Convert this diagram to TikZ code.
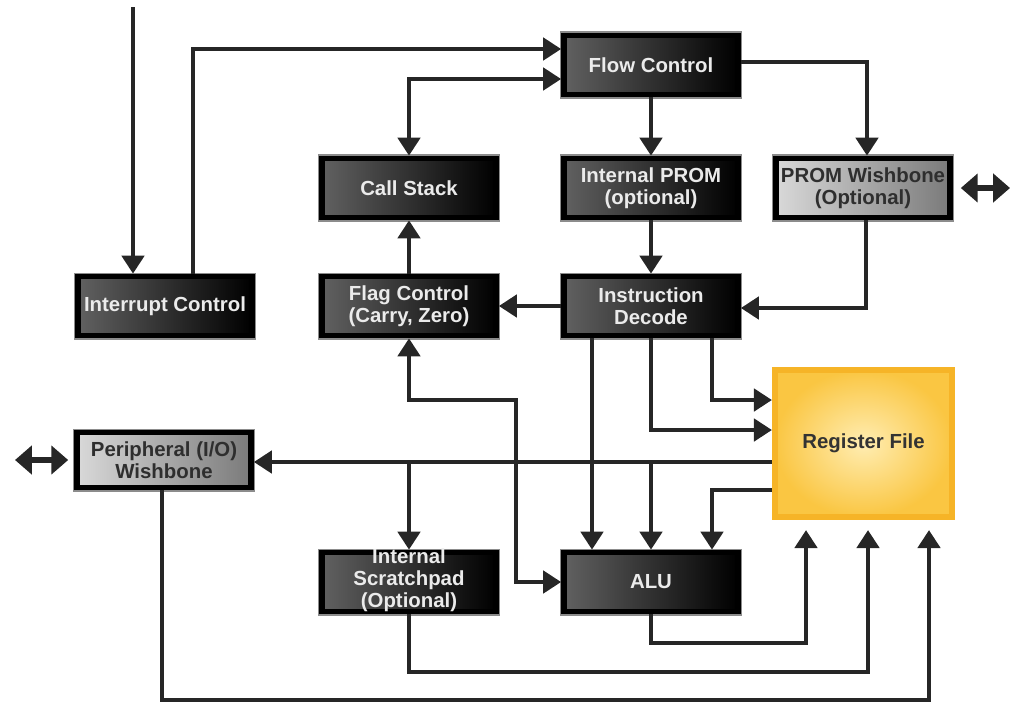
\documentclass[tikz,border=0pt]{standalone}
\usepackage{fontspec}
\setmainfont{Liberation Sans}
\usetikzlibrary{arrows.meta}
\usetikzlibrary{calc}

\definecolor{regfill}{HTML}{FFEDB2}
\definecolor{regshade}{HTML}{FAC642}
\definecolor{regframe}{HTML}{F6B427}

\begin{document}
\begin{tikzpicture}[x=0.025cm,y=-0.025cm]
    \newcommand{\tipsize}{length=0.45cm,width=0.55cm}
    \tikzstyle{dedge} = [line width=3.5pt,draw=black!85,-{Triangle[\tipsize]}]
    \tikzstyle{bedge} = [line width=3.5pt,draw=black!85,{Triangle[\tipsize]}-{Triangle[\tipsize]}]
    \tikzstyle{bus}   = [line width=4.5pt,draw=black!85,{Triangle[length=0.42cm,width=0.7cm]}-{Triangle[length=0.42cm,width=0.7cm]}]
    \tikzstyle{block}=[
      rectangle,
      anchor=center,
      inner sep=0pt,
      align=center,
      minimum width=4.35cm,
      minimum height=1.475cm,
      line width=0.14cm,
      draw=black,
      preaction={draw=black!45,line width=0.2cm},
      font=\bfseries\fontsize{14.5}{15.5}\selectfont,
    ]
    \tikzstyle{dark}=[block,left color=black!62,right color=black,text=white!92!black]
    \tikzstyle{light}=[block,left color=black!15,right color=black!52,text=black!82]
    \tikzstyle{regbox}=[
      rectangle,
      inner sep=0pt,
      minimum width=4.425cm,
      minimum height=3.675cm,
      line width=0.15cm,
      draw=regframe,
      inner color=regfill,
      outer color=regshade,
      text=black!80,
      font=\bfseries\fontsize{14.5}{15.5}\selectfont,
    ]

    \useasboundingbox (0,0) rectangle (1019,706);

    \node[dark]  (nIrq)     at (165,306) {Interrupt Control};
    \node[dark]  (nStack)   at (409,188) {Call Stack};
    \node[dark]  (nFlag)    at (409,306) {Flag Control\\(Carry, Zero)};
    \node[dark]  (nFlow)    at (651,65)  {Flow Control};
    \node[dark]  (nProm)    at (651,188) {Internal PROM\\(optional)};
    \node[light] (nPromWb)  at (863,188) {PROM Wishbone\\(Optional)};
    \node[dark]  (nDecode)  at (651,306) {Instruction\\Decode};
    \node[regbox] (nReg)    at (863.5,443.5) {Register File};
    \node[light,minimum height=1.375cm] (nPerWb) at (164,460) {Peripheral (I/O)\\Wishbone};
    \node[dark]  (nScratch) at (409,582) {\smash{\raisebox{-3pt}{\begin{tabular}{@{}c@{}}Internal\\Scratchpad\\(Optional)\end{tabular}}}};
    \node[dark]  (nAlu)     at (651,582) {ALU};

    \coordinate (cIrqIn) at (133,7);
    \coordinate (cPromBus) at (1010,188);
    \coordinate (cPerBus) at (15,460);

    \draw[dedge] (cIrqIn) -- (cIrqIn |- nIrq.north);
    \draw[dedge] (nIrq.north -| 193,0) |- (nFlow.west |- 0,49);
    \draw[bedge] (nStack.north) |- (nFlow.west |- 0,79);
    \draw[dedge] (nFlow) -- (nProm);
    \draw[dedge] (nFlow.east |- 0,62) -| (nPromWb.north -| 867,0);
    \draw[bus] ([xshift=0.2cm]nPromWb.east) -- (cPromBus);
    \draw[dedge] (nProm) -- (nDecode);
    \draw[dedge] (nPromWb.south -| 866,0) |- (nDecode.east |- 0,308);
    \draw[dedge] (nDecode) -- (nFlag);
    \draw[dedge] (nFlag) -- (nStack);
    \draw[bedge] (nFlag.south) |- (516,400) |- (nAlu.west);
    \draw[dedge] (nDecode.south -| 592,0) -- (nAlu.north -| 592,0);
    \draw[dedge] (nDecode.south) |- (nReg.west |- 0,430);
    \draw[dedge] (nDecode.south -| 712,0) |- (nReg.west |- 0,400);
    \draw[dedge] (nReg.west |- 0,462) -- (nPerWb.east |- 0,462);
    \draw[dedge] (nScratch.north |- 0,462) -- (nScratch.north);
    \draw[dedge] (nAlu.north |- 0,462) -- (nAlu.north);
    \draw[dedge] (nReg.west |- 0,490) -| (nAlu.north -| 712,0);
    \draw[bus] (cPerBus) -- ([xshift=-0.15cm]nPerWb.west);
    \draw[dedge,shorten >=0.25cm] (nAlu.south) |- (806,643) -- (nReg.south -| 806,0);
    \draw[dedge,shorten >=0.25cm] (nScratch.south) |- (868,672) -- (nReg.south -| 868,0);
    \draw[dedge,shorten >=0.25cm] (nPerWb.south -| 162,0) |- (929,700) -- (nReg.south -| 929,0);
  \end{tikzpicture}
\end{document}
